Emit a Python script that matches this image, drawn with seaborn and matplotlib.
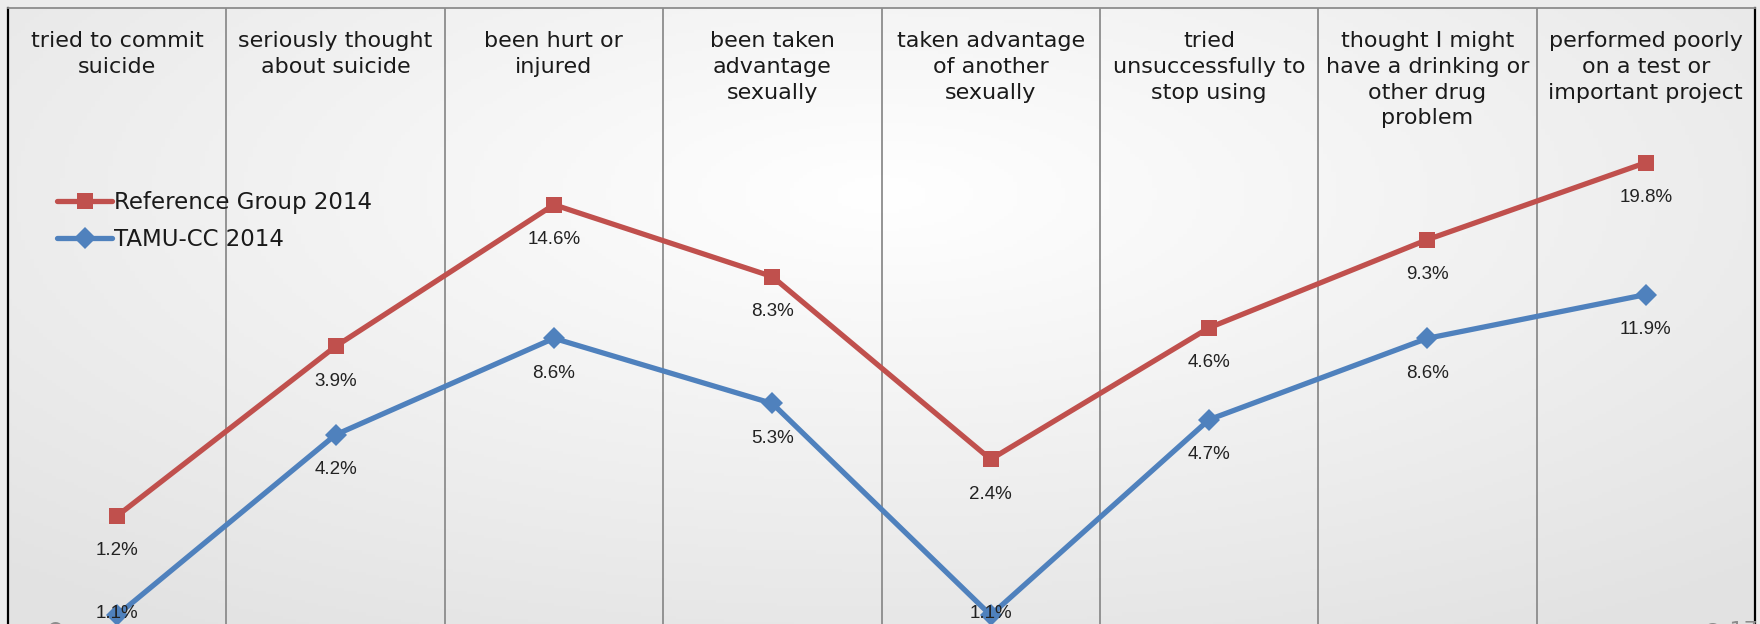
import numpy as np
import pandas as pd
import matplotlib
matplotlib.use("Agg")
import matplotlib.pyplot as plt
import matplotlib.transforms as mtransforms
import seaborn as sns

# ---- data ----
categories = [
    "tried to commit\nsuicide",
    "seriously thought\nabout suicide",
    "been hurt or\ninjured",
    "been taken\nadvantage\nsexually",
    "taken advantage\nof another\nsexually",
    "tried\nunsuccessfully to\nstop using",
    "thought I might\nhave a drinking or\nother drug\nproblem",
    "performed poorly\non a test or\nimportant project",
]
tamu_2014 = [1.1, 4.2, 8.6, 5.3, 1.1, 4.7, 8.6, 11.9]
reference_2014 = [1.2, 3.9, 14.6, 8.3, 2.4, 4.6, 9.3, 19.8]
series_names = ["Reference Group 2014", "TAMU-CC 2014"]

# stacked line chart: reference series sits on top of TAMU-CC
ref_stacked = [t + r for t, r in zip(tamu_2014, reference_2014)]

n = len(categories)
df = pd.DataFrame({
    "x": list(range(n)) * 2,
    "value": ref_stacked + tamu_2014,
    "label": reference_2014 + tamu_2014,
    "series": [series_names[0]] * n + [series_names[1]] * n,
})

sns.set_theme(style="white")
plt.rcParams["font.family"] = ["DejaVu Sans"]

W, H = 1760, 624
fig = plt.figure(figsize=(W / 100, H / 100), dpi=100)
fig.patch.set_facecolor("#ececec")
ax = fig.add_axes([8 / W, -4 / H, 1747 / W, 620 / H])

# soft background gradient
yy, xx = np.mgrid[0:1:200j, 0:1:400j]
r = np.sqrt(((xx - 0.5) * 1.0) ** 2 + ((yy - 0.3) * 0.9) ** 2)
g = np.clip(1.0 - 0.15 * r, 0.89, 1.0)
ax.imshow(np.dstack([g, g, g]), extent=[0, 1, 0, 1], transform=ax.transAxes,
          aspect="auto", zorder=0, origin="upper")

palette = {series_names[0]: "#C0504D", series_names[1]: "#4F81BD"}
markers = {series_names[0]: "s", series_names[1]: "D"}
sns.lineplot(data=df, x="x", y="value", hue="series", style="series",
             hue_order=series_names, style_order=series_names,
             palette=palette, markers=markers, dashes=False,
             linewidth=3.8, markersize=11, markeredgewidth=0,
             ax=ax, zorder=5, legend=True)

ax.set_yscale("log")
ax.set_ylim(1, 100)
ax.set_xlim(-0.5, n - 0.5)
ax.set_xticks([])
ax.set_yticks([])
ax.minorticks_off()
ax.set_xlabel("")
ax.set_ylabel("")

# category separators
for k in range(1, n):
    ax.axvline(k - 0.5, color="#8c8c8c", lw=1.3, zorder=2)

for side in ["left", "right"]:
    ax.spines[side].set_color("black")
    ax.spines[side].set_linewidth(1.6)
ax.spines["top"].set_color("#8c8c8c")
ax.spines["top"].set_linewidth(1.3)
ax.spines["bottom"].set_visible(False)

# category labels inside top of each column
trans = mtransforms.blended_transform_factory(ax.transData, ax.transAxes)
for i, c in enumerate(categories):
    ax.text(i, 1 - 23 / 620, c, transform=trans, ha="center", va="top",
            fontsize=16, color="#1a1a1a", linespacing=1.36, zorder=6)

# data labels below points (kept inside the plot area like Excel does)
fig.canvas.draw()
for _, row in df.iterrows():
    px, py = ax.transData.transform((row["x"], row["value"]))
    ty = max(py - 35, 11)
    ax.annotate(f"{row['label']:.1f}%", (row["x"], row["value"]),
                xytext=(px, ty), textcoords="figure pixels",
                ha="center", va="center", fontsize=13.5, color="#222222",
                family=["Liberation Sans", "DejaVu Sans"], zorder=7)

leg = ax.legend(loc="upper left", bbox_to_anchor=(40 / 1747, 1 - 174 / 620),
                frameon=False, fontsize=16.5, handlelength=2.4,
                handletextpad=0.1, labelspacing=0.6, borderaxespad=0)
for t in leg.get_texts():
    t.set_color("#1a1a1a")

# slide footer marks (cut off at bottom edge)
fig.text(55 / W, -4 / H, "\u25CF", color="#8c8c8c", fontsize=14,
         ha="center", va="center")
fig.text(1730 / W, -6 / H, "\u25CF 17", color="#8c8c8c", fontsize=16,
         ha="center", va="center")

fig.savefig("out.png", dpi=100)
